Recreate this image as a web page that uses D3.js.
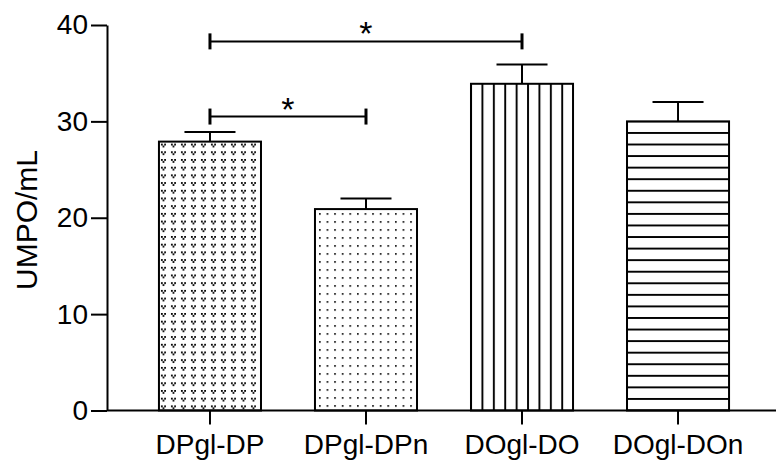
<meta charset="utf-8">
<script src="https://d3js.org/d3.v7.min.js"></script>
<style>
    body { margin: 0; background: #fff; }
    text { font-family: "Liberation Sans", Arial, sans-serif; fill: #000; }
</style>
<svg width="776" height="460"></svg>
<script>
    // values
    var categories = ["DPgl-DP", "DPgl-DPn", "DOgl-DO", "DOgl-DOn"];
    var means = [27.9, 20.9, 33.9, 30];
    var errors = [1.0, 1.1, 2.0, 2.0];
    var yTicks = [0, 10, 20, 30, 40];
    var pairs = [[0, 2], [0, 1]];
    var pairHeights = [38.3, 30.5];
    var pairLabels = ["*", "*"];

    var svg = d3.select("svg"),
        width = +svg.attr("width"),
        height = +svg.attr("height");

    var x = d3.scaleBand()
        .domain(categories)
        .range([107, 781])
        .paddingInner(0.346)
        .paddingOuter(0.333);

    var y = d3.scaleLinear()
        .domain([0, 40])
        .range([410.5, 25]);

    var bw = x.bandwidth();
    var defs = svg.append("defs");

    // bar 1: small v-shaped dot clusters
    var p1 = defs.append("pattern")
        .attr("id", "pat0")
        .attr("patternUnits", "userSpaceOnUse")
        .attr("x", x(categories[0]) + 2)
        .attr("y", y(means[0]) + 2)
        .attr("width", 10)
        .attr("height", 7.7);
    [[0, 0], [3.2, 0], [1.6, 2]].forEach(function(d) {
        p1.append("rect").attr("x", d[0]).attr("y", d[1])
            .attr("width", 1.8).attr("height", 1.8).attr("fill", "#000");
    });

    // bar 2: sparse dots
    var p2 = defs.append("pattern")
        .attr("id", "pat1")
        .attr("patternUnits", "userSpaceOnUse")
        .attr("x", x(categories[1]) + 4)
        .attr("y", y(means[1]) + 4)
        .attr("width", 7.6)
        .attr("height", 8);
    p2.append("rect").attr("width", 1.7).attr("height", 1.7).attr("fill", "#111");

    // bar 3: vertical lines
    var p3 = defs.append("pattern")
        .attr("id", "pat2")
        .attr("patternUnits", "userSpaceOnUse")
        .attr("x", x(categories[2]) - 5.7)
        .attr("y", 0)
        .attr("width", 11.4)
        .attr("height", 20);
    p3.append("rect").attr("x", 4.8).attr("width", 1.9).attr("height", 20).attr("fill", "#000");

    // bar 4: horizontal lines, 25 stripes over the bar height
    var hStep = (y(0) - y(means[3])) / 25;
    var p4 = defs.append("pattern")
        .attr("id", "pat3")
        .attr("patternUnits", "userSpaceOnUse")
        .attr("x", 0)
        .attr("y", y(0) - hStep / 2)
        .attr("width", 20)
        .attr("height", hStep);
    p4.append("rect").attr("y", hStep / 2 - 0.95).attr("width", 20).attr("height", 1.9).attr("fill", "#000");

    // bars
    svg.append("g")
        .selectAll("rect")
        .data(categories)
        .enter().append("rect")
        .attr("x", function(d) { return x(d); })
        .attr("y", function(d, i) { return y(means[i]); })
        .attr("width", bw)
        .attr("height", function(d, i) { return y(0) - y(means[i]); })
        .attr("fill", function(d, i) { return "url(#pat" + i + ")"; })
        .attr("stroke", "#000")
        .attr("stroke-width", 2);

    // error bars (upper only)
    var eb = svg.append("g").attr("stroke", "#000").attr("stroke-width", 2);
    categories.forEach(function(c, i) {
        var cx = x(c) + bw / 2;
        eb.append("line")
            .attr("x1", cx).attr("x2", cx)
            .attr("y1", y(means[i])).attr("y2", y(means[i] + errors[i]));
        eb.append("line")
            .attr("x1", cx - bw / 4).attr("x2", cx + bw / 4)
            .attr("y1", y(means[i] + errors[i])).attr("y2", y(means[i] + errors[i]));
    });

    // axes
    var yAxis = svg.append("g")
        .attr("transform", "translate(107,0)")
        .call(d3.axisLeft(y).tickValues(yTicks).tickSize(16).tickPadding(3).tickSizeOuter(0));

    var xAxis = svg.append("g")
        .attr("transform", "translate(0," + y(0) + ")")
        .call(d3.axisBottom(x).tickSize(14).tickPadding(10).tickSizeOuter(0));

    [yAxis, xAxis].forEach(function(a) {
        a.selectAll("path, line").attr("stroke", "#000").attr("stroke-width", 2);
        a.selectAll("text").attr("font-size", "28px").attr("fill", "#000")
            .style("font-family", "'Liberation Sans', Arial, sans-serif");
    });
    xAxis.select(".domain").attr("d", "M107,0H776");

    svg.append("text")
        .attr("transform", "translate(37,220) rotate(-90)")
        .attr("text-anchor", "middle")
        .attr("font-size", "30px")
        .text("UMPO/mL");

    // significance brackets
    var br = svg.append("g");
    pairs.forEach(function(p, i) {
        var x1 = x(categories[p[0]]) + bw / 2,
            x2 = x(categories[p[1]]) + bw / 2,
            yy = y(pairHeights[i]);
        br.append("line").attr("x1", x1).attr("x2", x2).attr("y1", yy).attr("y2", yy)
            .attr("stroke", "#000").attr("stroke-width", 2);
        [x1, x2].forEach(function(xx) {
            br.append("line").attr("x1", xx).attr("x2", xx).attr("y1", yy - 8).attr("y2", yy + 8)
                .attr("stroke", "#000").attr("stroke-width", 3);
        });
        br.append("text")
            .attr("x", (x1 + x2) / 2)
            .attr("y", yy + 4)
            .attr("text-anchor", "middle")
            .attr("font-size", "34px")
            .text(pairLabels[i]);
    });
</script>
